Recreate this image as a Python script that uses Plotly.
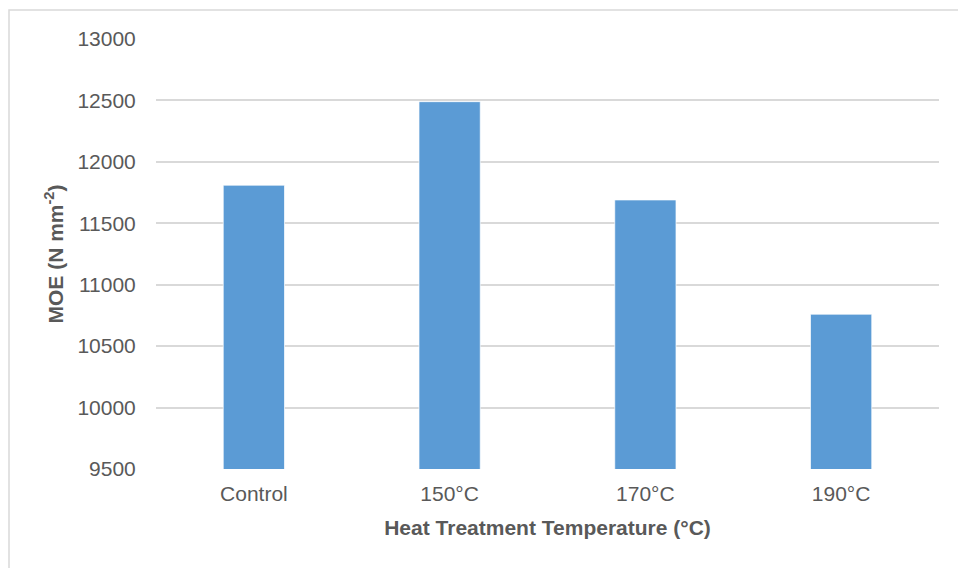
import plotly.graph_objects as go

# Modulus of elasticity by heat treatment temperature
categories = ["Control", "150°C", "170°C", "190°C"]
moe_values = [11810, 12490, 11690, 10760]
y_ticks = [9500, 10000, 10500, 11000, 11500, 12000, 12500, 13000]

W, H = 958, 568
L, R, T, B = 156, 19, 39, 99
plot_w = W - L - R
plot_h = H - T - B

text_color = "#595959"
grid_color = "#D9D9D9"
font_family = "Liberation Sans, Arial, sans-serif"

fig = go.Figure(
    go.Bar(
        x=categories,
        y=moe_values,
        marker=dict(color="#5B9BD5", line=dict(color="rgba(255,255,255,0.7)", width=1)),
        hoverinfo="x+y",
    )
)

fig.update_layout(
    width=W,
    height=H,
    margin=dict(l=L, r=R, t=T, b=B, autoexpand=False),
    paper_bgcolor="white",
    plot_bgcolor="white",
    bargap=0.687,
    showlegend=False,
    font=dict(family=font_family, size=21, color=text_color),
)

fig.update_xaxes(
    showgrid=False,
    showline=False,
    zeroline=False,
    ticks="outside",
    ticklen=6,
    tickcolor="rgba(0,0,0,0)",
    tickfont=dict(size=21, color=text_color),
    title=dict(
        text="<b>Heat Treatment Temperature (°C)</b>",
        font=dict(size=21, color=text_color),
        standoff=16,
    ),
)

fig.update_yaxes(
    range=[9500, 13000],
    tickvals=y_ticks,
    ticktext=[str(v) for v in y_ticks],
    showgrid=True,
    gridcolor=grid_color,
    gridwidth=1.5,
    zeroline=False,
    showline=False,
    ticks="outside",
    ticklen=15,
    tickcolor="rgba(0,0,0,0)",
    tickfont=dict(size=21, color=text_color),
    title=dict(
        text="<b>MOE (N mm<sup>-2</sup>)</b>",
        font=dict(size=21, color=text_color),
        standoff=8,
    ),
)

# Chart frame
fig.add_shape(
    type="rect",
    xref="paper",
    yref="paper",
    x0=(9 - L) / plot_w,
    x1=(W + 5 - L) / plot_w,
    y0=-(B + 5) / plot_h,
    y1=(H - B - 10) / plot_h,
    line=dict(color=grid_color, width=1.5),
    fillcolor="rgba(0,0,0,0)",
    layer="below",
)

fig.write_html("out.html")
